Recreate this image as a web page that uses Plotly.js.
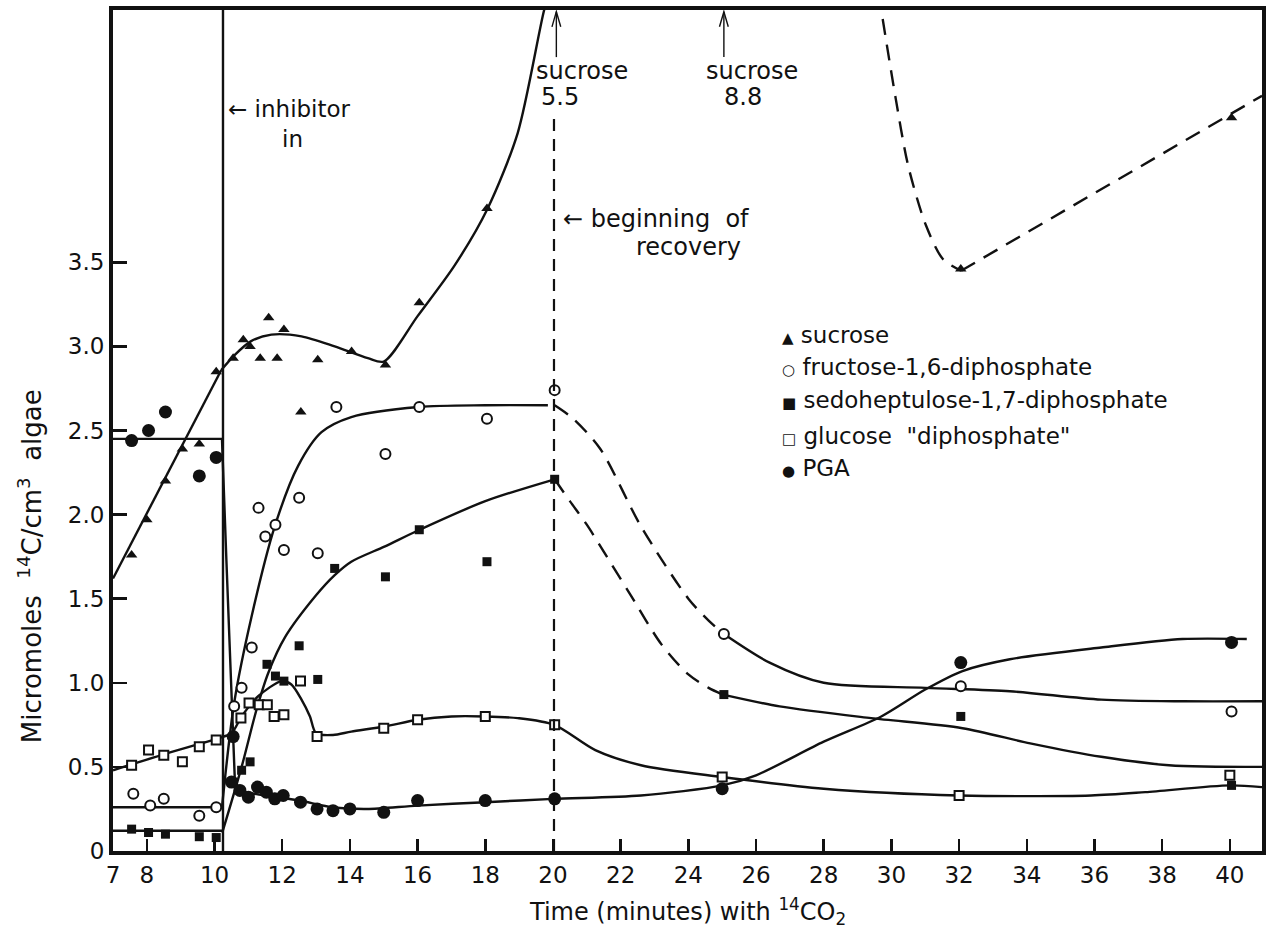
<!DOCTYPE html>
<html>
<head>
<meta charset="utf-8">
<script src="https://cdn.plot.ly/plotly-3.0.1.min.js"></script>
<style>html,body{margin:0;padding:0;background:#fff;}#chart{width:1270px;height:936px;}</style>
</head>
<body>
<div id="chart"></div>
<script>
// ---------------- measured data points ----------------
const sucroseT = [7.55, 8.0, 8.55, 9.05, 9.55, 10.05, 10.55, 10.85, 11.05, 11.35, 11.6, 11.85, 12.05, 12.55, 13.05, 14.05, 15.05, 16.05, 18.05, 32.05, 40.05];
const sucroseV = [1.76, 1.97, 2.20, 2.39, 2.42, 2.85, 2.93, 3.04, 3.00, 2.93, 3.17, 2.93, 3.10, 2.61, 2.92, 2.97, 2.89, 3.26, 3.82, 3.46, 4.36];

const fructoseT = [7.6, 8.1, 8.5, 9.55, 10.05, 10.58, 10.8, 11.1, 11.3, 11.5, 11.8, 12.05, 12.5, 13.05, 13.6, 15.05, 16.05, 18.05, 20.05, 25.05, 32.05, 40.05];
const fructoseV = [0.34, 0.27, 0.31, 0.21, 0.26, 0.86, 0.97, 1.21, 2.04, 1.87, 1.94, 1.79, 2.10, 1.77, 2.64, 2.36, 2.64, 2.57, 2.74, 1.29, 0.98, 0.83];

const sedoT = [7.55, 8.05, 8.55, 9.55, 10.05, 10.55, 10.8, 11.05, 11.55, 11.8, 12.05, 12.5, 13.05, 13.55, 15.05, 16.05, 18.05, 20.05, 25.05, 32.05, 40.05];
const sedoV = [0.13, 0.11, 0.10, 0.085, 0.08, 0.41, 0.48, 0.53, 1.11, 1.04, 1.01, 1.22, 1.02, 1.68, 1.63, 1.91, 1.72, 2.21, 0.93, 0.80, 0.39];

const glucoseT = [7.55, 8.05, 8.5, 9.05, 9.55, 10.05, 10.78, 11.02, 11.32, 11.56, 11.76, 12.05, 12.54, 13.03, 15.0, 16.0, 18.0, 20.05, 25.0, 32.0, 40.0];
const glucoseV = [0.51, 0.60, 0.57, 0.53, 0.62, 0.66, 0.79, 0.88, 0.87, 0.87, 0.80, 0.81, 1.01, 0.68, 0.73, 0.78, 0.80, 0.75, 0.44, 0.33, 0.45];

const pgaT = [7.55, 8.05, 8.55, 9.55, 10.05, 10.55, 10.5, 10.75, 11.0, 11.27, 11.53, 11.78, 12.03, 12.54, 13.03, 13.5, 14.0, 15.0, 16.0, 18.0, 20.05, 25.0, 32.05, 40.05];
const pgaV = [2.44, 2.50, 2.61, 2.23, 2.34, 0.68, 0.41, 0.36, 0.32, 0.38, 0.35, 0.31, 0.33, 0.29, 0.25, 0.24, 0.25, 0.23, 0.30, 0.30, 0.31, 0.37, 1.12, 1.24];

// ---------------- hand-drawn fitted curves ----------------
const sucroseLineT = [7.0, 10.2];
const sucroseLineV = [1.62, 2.86];
const sucroseCurveT = [10.2, 10.6, 11.07, 11.68, 12.57, 13.55, 14.53, 15.0, 16.0, 17.09, 18.07, 18.96, 19.74, 19.9];
const sucroseCurveV = [2.86, 2.95, 3.03, 3.07, 3.06, 3.00, 2.93, 2.91, 3.18, 3.48, 3.82, 4.27, 5.0, 5.1];
const sucroseRecCurveT = [29.62, 30.13, 30.5, 31.02, 31.52, 32.06];
const sucroseRecCurveV = [5.1, 4.47, 4.07, 3.72, 3.52, 3.45];
const sucroseRecLineT = [32.06, 40.95];
const sucroseRecLineV = [3.45, 4.49];

const fructoseLineT = [7.0, 10.22];
const fructoseLineV = [0.26, 0.26];
const fructoseCurveT = [10.22, 10.58, 11.09, 11.78, 12.47, 13.16, 14.04, 16.04, 18.0, 19.85];
const fructoseCurveV = [0.26, 0.88, 1.39, 1.93, 2.29, 2.49, 2.58, 2.64, 2.65, 2.65];
const fructoseRecT = [20.05, 20.6, 21.4, 22.6, 24.0, 24.6, 25.05];
const fructoseRecV = [2.65, 2.57, 2.39, 1.93, 1.50, 1.37, 1.29];
const fructoseLateT = [25.05, 26.4, 28.0, 31.0, 33.5, 36.2, 38.6, 40.95];
const fructoseLateV = [1.29, 1.12, 1.00, 0.97, 0.95, 0.90, 0.89, 0.89];

const sedoLineT = [7.0, 10.23];
const sedoLineV = [0.12, 0.12];
const sedoCurveT = [10.23, 10.8, 11.24, 11.59, 12.08, 13.0, 13.55, 14.04, 15.02, 16.06, 18.0, 20.05];
const sedoCurveV = [0.11, 0.50, 0.84, 1.06, 1.27, 1.52, 1.64, 1.72, 1.81, 1.91, 2.08, 2.21];
const sedoRecT = [20.05, 20.5, 21.0, 21.5, 22.3, 23.2, 24.0, 24.6, 25.02];
const sedoRecV = [2.21, 2.08, 1.94, 1.78, 1.52, 1.23, 1.05, 0.97, 0.93];
const sedoLateT = [25.02, 26.7, 29.4, 32.1, 34.1, 36.2, 38.2, 40.95];
const sedoLateV = [0.93, 0.86, 0.79, 0.73, 0.64, 0.56, 0.51, 0.50];

const glucoseCurveT = [7.0, 8.5, 10.1, 10.5, 10.8, 11.29, 11.98, 12.27, 12.57, 12.82, 13.0, 13.5, 14.04, 15.02, 16.0, 17.0, 17.97, 18.96, 20.04, 21.25, 22.6, 25.0, 28.0, 32.0, 35.9, 37.5, 40.0, 40.95];
const glucoseCurveV = [0.48, 0.575, 0.67, 0.70, 0.80, 0.92, 1.01, 0.99, 0.90, 0.80, 0.70, 0.69, 0.71, 0.74, 0.78, 0.80, 0.80, 0.79, 0.75, 0.60, 0.51, 0.44, 0.37, 0.33, 0.33, 0.35, 0.39, 0.38];

const pgaLineT = [7.0, 10.22, 10.35, 10.6];
const pgaLineV = [2.45, 2.45, 1.73, 0.42];
const pgaCurveT = [10.6, 10.8, 11.5, 12.5, 13.5, 14.5, 16.0, 18.0, 20.0, 22.6, 25.0, 26.0, 28.0, 29.7, 31.0, 32.1, 33.5, 36.2, 38.6, 40.5];
const pgaCurveV = [0.42, 0.36, 0.33, 0.30, 0.26, 0.25, 0.27, 0.29, 0.31, 0.33, 0.39, 0.45, 0.65, 0.80, 0.96, 1.07, 1.14, 1.21, 1.26, 1.26];

// ---------------- axes / events ----------------
const xTickVals = [7, 8, 10, 12, 14, 16, 18, 20, 22, 24, 26, 28, 30, 32, 34, 36, 38, 40];
const yTickVals = [0, 0.5, 1.0, 1.5, 2.0, 2.5, 3.0, 3.5];
const yTickText = ['0', '0.5', '1.0', '1.5', '2.0', '2.5', '3.0', '3.5'];
const inhibitorTime = 10.25;
const recoveryTime = 20.03;
const sucroseOffScale = [{t: 20.1, label: '5.5'}, {t: 25.05, label: '8.8'}];

const legendNames = ['sucrose', 'fructose-1,6-diphosphate', 'sedoheptulose-1,7-diphosphate', 'glucose  "diphosphate"', 'PGA'];
const legendSymbols = ['▲', '○', '■', '□', '●'];

const FONT = 'DejaVu Sans, Arial, sans-serif';
const K = '#111';

function line(x, y, opts) {
  opts = opts || {};
  return {
    x: x, y: y, type: 'scatter', mode: 'lines', hoverinfo: 'skip', showlegend: false,
    line: {color: K, width: 2.4, shape: opts.spline ? 'spline' : 'linear', smoothing: 0.8, dash: opts.dash || 'solid'},
    cliponaxis: true
  };
}
function pts(x, y, symbol, size, open) {
  return {
    x: x, y: y, type: 'scatter', mode: 'markers', hoverinfo: 'skip', showlegend: false,
    marker: {symbol: symbol, size: size, color: open ? '#fff' : K, line: {color: K, width: open ? 2 : 0}},
    cliponaxis: false
  };
}
const DASH = '16px,10px';

const traces = [
  line(sucroseLineT, sucroseLineV),
  line(sucroseCurveT, sucroseCurveV, {spline: true}),
  line(sucroseRecCurveT, sucroseRecCurveV, {spline: true, dash: DASH}),
  line(sucroseRecLineT, sucroseRecLineV, {dash: DASH}),
  line(fructoseLineT, fructoseLineV),
  line(fructoseCurveT, fructoseCurveV, {spline: true}),
  line(fructoseRecT, fructoseRecV, {spline: true, dash: DASH}),
  line(fructoseLateT, fructoseLateV, {spline: true}),
  line(sedoLineT, sedoLineV),
  line(sedoCurveT, sedoCurveV, {spline: true}),
  line(sedoRecT, sedoRecV, {spline: true, dash: DASH}),
  line(sedoLateT, sedoLateV, {spline: true}),
  line(glucoseCurveT, glucoseCurveV, {spline: true}),
  line(pgaLineT, pgaLineV),
  line(pgaCurveT, pgaCurveV, {spline: true}),
  pts(sucroseT, sucroseV, 'triangle-up', 10, false),
  pts(fructoseT, fructoseV, 'circle', 10, true),
  pts(sedoT, sedoV, 'square', 9, false),
  pts(glucoseT, glucoseV, 'square', 9, true),
  pts(pgaT, pgaV, 'circle', 13, false)
];

const txt = (x, y, text, xanchor, size) => ({
  x: x, y: y, xref: 'x', yref: 'y', text: text, showarrow: false,
  xanchor: xanchor || 'center', yanchor: 'middle',
  font: {family: FONT, size: size || 24, color: K}
});

const annotations = [
  txt(10.34, 4.41, '← inhibitor', 'left', 23),
  txt(12.29, 4.235, 'in', 'center', 23),
  txt(20.25, 3.76, '← beginning  of', 'left'),
  txt(24.0, 3.59, 'recovery'),
  txt(20.85, 4.64, 'sucrose'),
  txt(20.2, 4.48, sucroseOffScale[0].label),
  txt(25.87, 4.64, 'sucrose'),
  txt(25.6, 4.48, sucroseOffScale[1].label),
  // y title
  {xref: 'paper', yref: 'paper', x: -0.072, y: 0.339, text: 'Micromoles  <sup>14</sup>C/cm<sup>3</sup>  algae',
   textangle: -90, showarrow: false, xanchor: 'center', yanchor: 'middle', font: {family: FONT, size: 26, color: K}},
  // x title
  {xref: 'paper', yref: 'paper', x: 0.5, y: -0.072, text: 'Time (minutes) with <sup>14</sup>CO<sub>2</sub>',
   showarrow: false, xanchor: 'center', yanchor: 'middle', font: {family: FONT, size: 24, color: K}}
];
// legend as text rows
const legendY = [3.07, 2.88, 2.68, 2.47, 2.28];
legendNames.forEach((n, i) => {
  annotations.push({
    x: 26.7, y: legendY[i], xref: 'x', yref: 'y', showarrow: false, xanchor: 'left', yanchor: 'middle',
    text: '<span style="font-size:15px">' + legendSymbols[i] + '</span> ' + n,
    font: {family: FONT, size: 23, color: K}
  });
});

const shapes = [
  {type: 'line', xref: 'x', yref: 'y', x0: inhibitorTime, x1: inhibitorTime, y0: 0, y1: 5.0, line: {color: K, width: 2.4}},
  {type: 'line', xref: 'x', yref: 'y', x0: recoveryTime, x1: recoveryTime, y0: 0, y1: 4.38, line: {color: K, width: 2.2, dash: '12px,8px'}}
];
// arrows pointing to off-scale sucrose values (shaft + open chevron head)
sucroseOffScale.forEach(s => {
  shapes.push({type: 'line', xref: 'x', yref: 'y', x0: s.t, x1: s.t, y0: 4.72, y1: 4.99, line: {color: K, width: 1.4}});
  shapes.push({type: 'path', xref: 'x', yref: 'y',
    path: 'M' + (s.t - 0.13) + ',4.90 L' + s.t + ',4.99 L' + (s.t + 0.13) + ',4.90',
    line: {color: K, width: 1.4}});
});

const layout = {
  width: 1270, height: 936,
  margin: {l: 113, r: 8, t: 10, b: 85},
  paper_bgcolor: '#fff', plot_bgcolor: '#fff',
  showlegend: false,
  xaxis: {
    range: [7.0, 40.95], tickvals: xTickVals, ticktext: xTickVals.map(String),
    ticks: 'inside', ticklen: 12, tickwidth: 2.5, tickcolor: K,
    showline: true, linewidth: 4, linecolor: K, mirror: true,
    showgrid: false, zeroline: false,
    tickfont: {family: FONT, size: 23, color: K}
  },
  yaxis: {
    range: [0, 5.0], tickvals: yTickVals, ticktext: yTickText,
    ticks: 'inside', ticklen: 14, tickwidth: 2.5, tickcolor: K,
    showline: true, linewidth: 4, linecolor: K, mirror: true,
    showgrid: false, zeroline: false,
    tickfont: {family: FONT, size: 23, color: K}
  },
  annotations: annotations,
  shapes: shapes
};

Plotly.newPlot('chart', traces, layout, {staticPlot: true, displayModeBar: false});
</script>
</body>
</html>
